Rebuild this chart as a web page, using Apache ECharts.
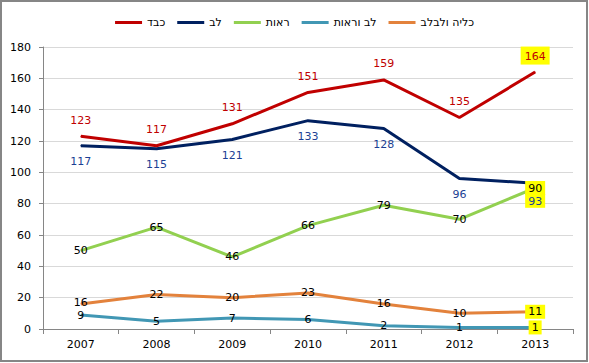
<!DOCTYPE html>
<html>
<head>
<meta charset="utf-8">
<script src="https://cdn.jsdelivr.net/npm/echarts@6/dist/echarts.min.js"></script>
<style>
html,body{margin:0;padding:0;background:#fff;}
#c{width:589px;height:363px;}
</style>
</head>
<body>
<div id="c"></div>
<script>
const years = ['2007','2008','2009','2010','2011','2012','2013'];
const seriesNames = ['כבד','לב','ראות','לב וראות','כליה ולבלב'];
const liver = [123,117,131,151,159,135,164];
const heart = [117,115,121,133,128,96,93];
const lungs = [50,65,46,66,79,70,90];
const heartLungs = [9,5,7,6,2,1,1];
const kidneyPancreas = [16,22,20,23,16,10,11];
const yTicks = {min:0, max:180, interval:20};

const FONT = 'DejaVu Sans';
function mk(name, data, color, labelColor, pos, dist, firstOffset) {
  return {
    name: name,
    type: 'line',
    data: data.map((v, i) => {
      if (i === data.length - 1) {
        return {
          value: v,
          label: {
            backgroundColor: '#ffff00',
            padding: name === 'כבד' ? [4, 4, 3, 4] : [2, 3, 1, 3],
            distance: name === 'כבד' ? 7 : dist
          }
        };
      }
      if (i === 0 && firstOffset) {
        return {value: v, label: {offset: [0, firstOffset]}};
      }
      return v;
    }),
    symbol: 'circle',
    symbolSize: 1,
    itemStyle: {color: color},
    lineStyle: {color: color, width: 3},
    label: {
      show: true,
      position: pos,
      distance: dist,
      color: labelColor,
      fontFamily: FONT,
      fontSize: 11
    },
    emphasis: {disabled: true},
    animation: false
  };
}

const chart = echarts.init(document.getElementById('c'), null, {renderer: 'svg'});
chart.setOption({
  animation: false,
  backgroundColor: '#fff',
  graphic: [{
    type: 'rect',
    shape: {x: 1, y: 1, width: 586, height: 360},
    style: {fill: 'none', stroke: '#868686', lineWidth: 2},
    silent: true
  }],
  legend: {
    data: seriesNames,
    top: 12,
    left: 'center',
    icon: 'rect',
    itemWidth: 27,
    itemHeight: 3,
    itemGap: 12,
    textStyle: {fontFamily: FONT, fontSize: 11, color: '#000'}
  },
  grid: {left: 43, right: 16, top: 47, bottom: 34, containLabel: false},
  xAxis: {
    type: 'category',
    data: years,
    boundaryGap: true,
    axisLine: {lineStyle: {color: '#868686', width: 1}},
    axisTick: {show: true, length: 5, lineStyle: {color: '#868686'}},
    axisLabel: {fontFamily: FONT, fontSize: 11, color: '#000', margin: 10},
    splitLine: {show: false}
  },
  yAxis: {
    type: 'value',
    min: yTicks.min,
    max: yTicks.max,
    interval: yTicks.interval,
    axisLine: {show: true, lineStyle: {color: '#868686', width: 1}},
    axisTick: {show: true, length: 4, lineStyle: {color: '#868686'}},
    axisLabel: {fontFamily: FONT, fontSize: 11, color: '#000', margin: 12},
    splitLine: {show: true, lineStyle: {color: '#d9d9d9', width: 1}}
  },
  series: [
    mk(seriesNames[4], kidneyPancreas, '#e3823c', '#000', 'inside', 0, -1),
    mk(seriesNames[3], heartLungs, '#4197b4', '#000', 'inside', 0, 1),
    mk(seriesNames[2], lungs, '#92d050', '#000', 'inside', 0),
    mk(seriesNames[1], heart, '#002060', '#1c3f94', 'bottom', 10),
    mk(seriesNames[0], liver, '#c00000', '#c00000', 'top', 10)
  ]
});
</script>
</body>
</html>
